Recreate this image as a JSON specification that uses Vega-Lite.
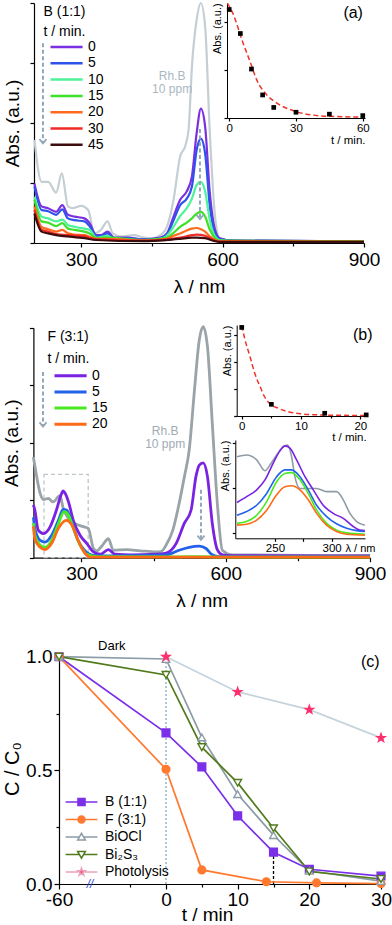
{
"$schema": "https://vega.github.io/schema/vega-lite/v6.json",
"width": 392, "height": 925,
"autosize": {"type": "none"},
"padding": 0,
"background": "white",
"config": {
  "font": "Liberation Sans",
  "view": {"stroke": null},
  "axis": {"grid": false, "domainColor": "#000", "tickColor": "#000", "labelColor": "#000", "titleColor": "#000", "titleFontWeight": "normal", "labelFlush": false, "labelOverlap": false, "labelBound": false, "domainWidth": 1.2, "tickWidth": 1.2, "labelFont": "Liberation Sans", "titleFont": "Liberation Sans"},
  "legend": {"labelColor": "#000", "titleColor": "#000", "titleFontWeight": "normal", "labelFont": "Liberation Sans", "titleFont": "Liberation Sans"}
},
"datasets": {
  "specA": [
    {"s":"Rh.B","nm":201,"a":1.72},{"s":"Rh.B","nm":216,"a":1.02},{"s":"Rh.B","nm":230,"a":1.02},{"s":"Rh.B","nm":247,"a":0.84},{"s":"Rh.B","nm":259,"a":1.16},{"s":"Rh.B","nm":272,"a":0.61},{"s":"Rh.B","nm":282,"a":0.58},{"s":"Rh.B","nm":300,"a":0.62},{"s":"Rh.B","nm":315,"a":0.55},{"s":"Rh.B","nm":328,"a":0.16},{"s":"Rh.B","nm":342,"a":0.22},{"s":"Rh.B","nm":356,"a":0.36},{"s":"Rh.B","nm":367,"a":0.16},{"s":"Rh.B","nm":384,"a":0.11},{"s":"Rh.B","nm":412,"a":0.13},{"s":"Rh.B","nm":433,"a":0.09},{"s":"Rh.B","nm":454,"a":0.08},{"s":"Rh.B","nm":468,"a":0.13},{"s":"Rh.B","nm":482,"a":0.27},{"s":"Rh.B","nm":496,"a":0.72},{"s":"Rh.B","nm":510,"a":1.44},{"s":"Rh.B","nm":521,"a":1.62},{"s":"Rh.B","nm":528,"a":1.9},{"s":"Rh.B","nm":535,"a":2.94},{"s":"Rh.B","nm":545,"a":3.72},{"s":"Rh.B","nm":554,"a":4.0},{"s":"Rh.B","nm":563,"a":3.61},{"s":"Rh.B","nm":573,"a":1.83},{"s":"Rh.B","nm":584,"a":0.44},{"s":"Rh.B","nm":594,"a":0.08},{"s":"Rh.B","nm":622,"a":0.04},{"s":"Rh.B","nm":700,"a":0.033},{"s":"Rh.B","nm":900,"a":0.03},
    {"s":"0","nm":201,"a":0.99},{"s":"0","nm":216,"a":0.61},{"s":"0","nm":230,"a":0.58},{"s":"0","nm":247,"a":0.52},{"s":"0","nm":260,"a":0.63},{"s":"0","nm":272,"a":0.47},{"s":"0","nm":286,"a":0.44},{"s":"0","nm":307,"a":0.41},{"s":"0","nm":318,"a":0.33},{"s":"0","nm":332,"a":0.13},{"s":"0","nm":342,"a":0.13},{"s":"0","nm":356,"a":0.19},{"s":"0","nm":370,"a":0.09},{"s":"0","nm":398,"a":0.09},{"s":"0","nm":433,"a":0.06},{"s":"0","nm":468,"a":0.09},{"s":"0","nm":482,"a":0.16},{"s":"0","nm":496,"a":0.44},{"s":"0","nm":510,"a":0.72},{"s":"0","nm":524,"a":0.86},{"s":"0","nm":535,"a":1.11},{"s":"0","nm":545,"a":1.83},{"s":"0","nm":554,"a":2.24},{"s":"0","nm":563,"a":1.94},{"s":"0","nm":573,"a":0.83},{"s":"0","nm":584,"a":0.22},{"s":"0","nm":594,"a":0.08},{"s":"0","nm":622,"a":0.04},{"s":"0","nm":900,"a":0.03},
    {"s":"5","nm":201,"a":0.94},{"s":"5","nm":216,"a":0.55},{"s":"5","nm":230,"a":0.53},{"s":"5","nm":247,"a":0.47},{"s":"5","nm":260,"a":0.56},{"s":"5","nm":272,"a":0.41},{"s":"5","nm":286,"a":0.38},{"s":"5","nm":307,"a":0.36},{"s":"5","nm":318,"a":0.28},{"s":"5","nm":332,"a":0.12},{"s":"5","nm":342,"a":0.12},{"s":"5","nm":356,"a":0.16},{"s":"5","nm":370,"a":0.08},{"s":"5","nm":398,"a":0.08},{"s":"5","nm":433,"a":0.06},{"s":"5","nm":468,"a":0.08},{"s":"5","nm":482,"a":0.14},{"s":"5","nm":496,"a":0.38},{"s":"5","nm":510,"a":0.63},{"s":"5","nm":524,"a":0.74},{"s":"5","nm":535,"a":0.94},{"s":"5","nm":545,"a":1.55},{"s":"5","nm":554,"a":1.74},{"s":"5","nm":563,"a":1.49},{"s":"5","nm":573,"a":0.61},{"s":"5","nm":584,"a":0.16},{"s":"5","nm":594,"a":0.06},{"s":"5","nm":622,"a":0.04},{"s":"5","nm":900,"a":0.03},
    {"s":"10","nm":201,"a":0.77},{"s":"10","nm":216,"a":0.44},{"s":"10","nm":230,"a":0.41},{"s":"10","nm":247,"a":0.36},{"s":"10","nm":260,"a":0.39},{"s":"10","nm":272,"a":0.30},{"s":"10","nm":286,"a":0.27},{"s":"10","nm":307,"a":0.24},{"s":"10","nm":318,"a":0.22},{"s":"10","nm":332,"a":0.09},{"s":"10","nm":356,"a":0.12},{"s":"10","nm":370,"a":0.07},{"s":"10","nm":433,"a":0.05},{"s":"10","nm":468,"a":0.07},{"s":"10","nm":482,"a":0.12},{"s":"10","nm":496,"a":0.27},{"s":"10","nm":510,"a":0.45},{"s":"10","nm":524,"a":0.58},{"s":"10","nm":535,"a":0.74},{"s":"10","nm":545,"a":0.97},{"s":"10","nm":554,"a":1.02},{"s":"10","nm":563,"a":0.86},{"s":"10","nm":573,"a":0.38},{"s":"10","nm":584,"a":0.11},{"s":"10","nm":594,"a":0.05},{"s":"10","nm":622,"a":0.033},{"s":"10","nm":900,"a":0.03},
    {"s":"15","nm":201,"a":0.72},{"s":"15","nm":216,"a":0.36},{"s":"15","nm":230,"a":0.34},{"s":"15","nm":247,"a":0.28},{"s":"15","nm":260,"a":0.33},{"s":"15","nm":272,"a":0.24},{"s":"15","nm":286,"a":0.22},{"s":"15","nm":307,"a":0.19},{"s":"15","nm":318,"a":0.16},{"s":"15","nm":332,"a":0.08},{"s":"15","nm":356,"a":0.09},{"s":"15","nm":433,"a":0.05},{"s":"15","nm":482,"a":0.09},{"s":"15","nm":496,"a":0.17},{"s":"15","nm":510,"a":0.27},{"s":"15","nm":524,"a":0.34},{"s":"15","nm":535,"a":0.41},{"s":"15","nm":545,"a":0.49},{"s":"15","nm":554,"a":0.52},{"s":"15","nm":563,"a":0.44},{"s":"15","nm":573,"a":0.22},{"s":"15","nm":584,"a":0.08},{"s":"15","nm":594,"a":0.04},{"s":"15","nm":900,"a":0.03},
    {"s":"20","nm":201,"a":0.61},{"s":"20","nm":216,"a":0.27},{"s":"20","nm":230,"a":0.23},{"s":"20","nm":247,"a":0.19},{"s":"20","nm":260,"a":0.22},{"s":"20","nm":272,"a":0.16},{"s":"20","nm":286,"a":0.14},{"s":"20","nm":307,"a":0.13},{"s":"20","nm":332,"a":0.07},{"s":"20","nm":356,"a":0.07},{"s":"20","nm":433,"a":0.04},{"s":"20","nm":482,"a":0.07},{"s":"20","nm":496,"a":0.12},{"s":"20","nm":510,"a":0.16},{"s":"20","nm":524,"a":0.21},{"s":"20","nm":535,"a":0.24},{"s":"20","nm":545,"a":0.25},{"s":"20","nm":554,"a":0.23},{"s":"20","nm":563,"a":0.19},{"s":"20","nm":573,"a":0.11},{"s":"20","nm":584,"a":0.05},{"s":"20","nm":594,"a":0.03},{"s":"20","nm":900,"a":0.02},
    {"s":"30","nm":201,"a":0.55},{"s":"30","nm":216,"a":0.22},{"s":"30","nm":230,"a":0.19},{"s":"30","nm":247,"a":0.15},{"s":"30","nm":272,"a":0.13},{"s":"30","nm":307,"a":0.11},{"s":"30","nm":332,"a":0.06},{"s":"30","nm":433,"a":0.04},{"s":"30","nm":482,"a":0.06},{"s":"30","nm":510,"a":0.09},{"s":"30","nm":535,"a":0.13},{"s":"30","nm":545,"a":0.14},{"s":"30","nm":563,"a":0.12},{"s":"30","nm":584,"a":0.04},{"s":"30","nm":594,"a":0.02},{"s":"30","nm":900,"a":0.02},
    {"s":"45","nm":201,"a":0.49},{"s":"45","nm":216,"a":0.19},{"s":"45","nm":230,"a":0.16},{"s":"45","nm":247,"a":0.13},{"s":"45","nm":272,"a":0.11},{"s":"45","nm":307,"a":0.08},{"s":"45","nm":332,"a":0.05},{"s":"45","nm":433,"a":0.03},{"s":"45","nm":482,"a":0.05},{"s":"45","nm":510,"a":0.07},{"s":"45","nm":535,"a":0.09},{"s":"45","nm":545,"a":0.09},{"s":"45","nm":563,"a":0.08},{"s":"45","nm":584,"a":0.03},{"s":"45","nm":594,"a":0.02},{"s":"45","nm":900,"a":0.02}
  ],
  "ptsA": [{"t":0,"a":2.26},{"t":5,"a":1.76},{"t":10,"a":1.02},{"t":15,"a":0.48},{"t":20,"a":0.22},{"t":30,"a":0.12},{"t":45,"a":0.08},{"t":60,"a":0.05}],
  "fitA": [{"t":-0.8,"a":2.39},{"t":1.9,"a":2.15},{"t":5.7,"a":1.63},{"t":9.4,"a":1.17},{"t":12.4,"a":0.79},{"t":16.9,"a":0.48},{"t":21.4,"a":0.31},{"t":28.9,"a":0.15},{"t":37.8,"a":0.06},{"t":48,"a":0.03},{"t":60,"a":0.02}],
  "specB": [
    {"s":"Rh.B","nm":200,"a":1.75},{"s":"Rh.B","nm":203,"a":1.6},{"s":"Rh.B","nm":214,"a":1.12},{"s":"Rh.B","nm":221,"a":1.01},{"s":"Rh.B","nm":231,"a":1.03},{"s":"Rh.B","nm":241,"a":0.97},{"s":"Rh.B","nm":255,"a":1.08},{"s":"Rh.B","nm":262,"a":0.86},{"s":"Rh.B","nm":273,"a":0.68},{"s":"Rh.B","nm":287,"a":0.59},{"s":"Rh.B","nm":304,"a":0.54},{"s":"Rh.B","nm":314,"a":0.51},{"s":"Rh.B","nm":325,"a":0.16},{"s":"Rh.B","nm":332,"a":0.12},{"s":"Rh.B","nm":342,"a":0.2},{"s":"Rh.B","nm":356,"a":0.33},{"s":"Rh.B","nm":366,"a":0.13},{"s":"Rh.B","nm":394,"a":0.14},{"s":"Rh.B","nm":422,"a":0.12},{"s":"Rh.B","nm":456,"a":0.1},{"s":"Rh.B","nm":466,"a":0.11},{"s":"Rh.B","nm":476,"a":0.22},{"s":"Rh.B","nm":490,"a":0.48},{"s":"Rh.B","nm":503,"a":0.94},{"s":"Rh.B","nm":514,"a":1.41},{"s":"Rh.B","nm":524,"a":1.87},{"s":"Rh.B","nm":535,"a":2.92},{"s":"Rh.B","nm":545,"a":3.79},{"s":"Rh.B","nm":553,"a":4.02},{"s":"Rh.B","nm":562,"a":3.67},{"s":"Rh.B","nm":572,"a":2.34},{"s":"Rh.B","nm":583,"a":0.89},{"s":"Rh.B","nm":593,"a":0.13},{"s":"Rh.B","nm":614,"a":0.05},{"s":"Rh.B","nm":900,"a":0.035},
    {"s":"0","nm":200,"a":0.92},{"s":"0","nm":203,"a":0.83},{"s":"0","nm":210,"a":0.48},{"s":"0","nm":221,"a":0.42},{"s":"0","nm":235,"a":0.54},{"s":"0","nm":248,"a":0.83},{"s":"0","nm":257,"a":1.08},{"s":"0","nm":262,"a":1.16},{"s":"0","nm":266,"a":1.12},{"s":"0","nm":273,"a":0.97},{"s":"0","nm":283,"a":0.65},{"s":"0","nm":297,"a":0.39},{"s":"0","nm":311,"a":0.25},{"s":"0","nm":325,"a":0.1},{"s":"0","nm":339,"a":0.06},{"s":"0","nm":356,"a":0.14},{"s":"0","nm":370,"a":0.06},{"s":"0","nm":402,"a":0.05},{"s":"0","nm":456,"a":0.06},{"s":"0","nm":476,"a":0.08},{"s":"0","nm":497,"a":0.25},{"s":"0","nm":514,"a":0.6},{"s":"0","nm":528,"a":0.83},{"s":"0","nm":538,"a":1.41},{"s":"0","nm":545,"a":1.61},{"s":"0","nm":553,"a":1.65},{"s":"0","nm":562,"a":1.41},{"s":"0","nm":572,"a":0.6},{"s":"0","nm":583,"a":0.13},{"s":"0","nm":593,"a":0.05},{"s":"0","nm":614,"a":0.035},{"s":"0","nm":900,"a":0.03},
    {"s":"5","nm":200,"a":0.7},{"s":"5","nm":203,"a":0.51},{"s":"5","nm":214,"a":0.3},{"s":"5","nm":224,"a":0.27},{"s":"5","nm":238,"a":0.39},{"s":"5","nm":252,"a":0.65},{"s":"5","nm":262,"a":0.84},{"s":"5","nm":269,"a":0.83},{"s":"5","nm":280,"a":0.62},{"s":"5","nm":293,"a":0.3},{"s":"5","nm":307,"a":0.12},{"s":"5","nm":325,"a":0.04},{"s":"5","nm":366,"a":0.03},{"s":"5","nm":476,"a":0.05},{"s":"5","nm":503,"a":0.13},{"s":"5","nm":524,"a":0.18},{"s":"5","nm":545,"a":0.2},{"s":"5","nm":559,"a":0.16},{"s":"5","nm":572,"a":0.05},{"s":"5","nm":586,"a":0.02},{"s":"5","nm":900,"a":0.02},
    {"s":"15","nm":200,"a":0.6},{"s":"15","nm":203,"a":0.39},{"s":"15","nm":214,"a":0.22},{"s":"15","nm":224,"a":0.18},{"s":"15","nm":238,"a":0.3},{"s":"15","nm":252,"a":0.59},{"s":"15","nm":264,"a":0.8},{"s":"15","nm":273,"a":0.74},{"s":"15","nm":283,"a":0.51},{"s":"15","nm":297,"a":0.22},{"s":"15","nm":311,"a":0.06},{"s":"15","nm":332,"a":0.02},{"s":"15","nm":500,"a":0.015},{"s":"15","nm":545,"a":0.02},{"s":"15","nm":600,"a":0.01},{"s":"15","nm":900,"a":0.01},
    {"s":"20","nm":200,"a":0.55},{"s":"20","nm":203,"a":0.33},{"s":"20","nm":214,"a":0.18},{"s":"20","nm":224,"a":0.14},{"s":"20","nm":238,"a":0.25},{"s":"20","nm":252,"a":0.51},{"s":"20","nm":268,"a":0.65},{"s":"20","nm":280,"a":0.57},{"s":"20","nm":293,"a":0.3},{"s":"20","nm":307,"a":0.08},{"s":"20","nm":318,"a":0.01},{"s":"20","nm":900,"a":0.01}
  ],
  "ptsB": [{"t":0,"a":3.26},{"t":5,"a":0.43},{"t":14,"a":0.1},{"t":21,"a":0.04}],
  "fitB": [{"t":0,"a":3.33},{"t":0.5,"a":2.85},{"t":1.4,"a":2.18},{"t":2.2,"a":1.57},{"t":3.1,"a":1.08},{"t":3.9,"a":0.69},{"t":4.8,"a":0.44},{"t":6.2,"a":0.28},{"t":8,"a":0.15},{"t":10,"a":0.08},{"t":12,"a":0.05},{"t":15,"a":0.03},{"t":21,"a":0.02}],
  "insetB": [
    {"s":"Rh.B","nm":216.5,"a":1.69},{"s":"Rh.B","nm":225,"a":1.73},{"s":"Rh.B","nm":233.9,"a":1.62},{"s":"Rh.B","nm":241.2,"a":1.38},{"s":"Rh.B","nm":245.6,"a":1.51},{"s":"Rh.B","nm":251.5,"a":1.73},{"s":"Rh.B","nm":257.3,"a":1.91},{"s":"Rh.B","nm":261.2,"a":1.95},{"s":"Rh.B","nm":264.7,"a":1.69},{"s":"Rh.B","nm":267.6,"a":1.25},{"s":"Rh.B","nm":272.1,"a":0.99},{"s":"Rh.B","nm":278,"a":0.99},{"s":"Rh.B","nm":286.8,"a":0.99},{"s":"Rh.B","nm":295.6,"a":0.92},{"s":"Rh.B","nm":304.4,"a":0.92},{"s":"Rh.B","nm":310.3,"a":0.74},{"s":"Rh.B","nm":316.2,"a":0.44},{"s":"Rh.B","nm":322.1,"a":0.26},{"s":"Rh.B","nm":329.4,"a":0.18},
    {"s":"0","nm":216.5,"a":0.68},{"s":"0","nm":225,"a":0.81},{"s":"0","nm":233.9,"a":0.96},{"s":"0","nm":241.2,"a":1.18},{"s":"0","nm":248.5,"a":1.55},{"s":"0","nm":254.4,"a":1.82},{"s":"0","nm":258.8,"a":1.93},{"s":"0","nm":263.2,"a":1.88},{"s":"0","nm":269.1,"a":1.62},{"s":"0","nm":276.5,"a":1.25},{"s":"0","nm":283.8,"a":0.96},{"s":"0","nm":292.6,"a":0.62},{"s":"0","nm":301.4,"a":0.44},{"s":"0","nm":310.3,"a":0.33},{"s":"0","nm":319.1,"a":0.15},{"s":"0","nm":325,"a":0.07},{"s":"0","nm":329.4,"a":0.06},
    {"s":"5","nm":216.5,"a":0.4},{"s":"5","nm":225,"a":0.48},{"s":"5","nm":233.9,"a":0.62},{"s":"5","nm":242.7,"a":0.88},{"s":"5","nm":251.5,"a":1.25},{"s":"5","nm":258.8,"a":1.4},{"s":"5","nm":264.7,"a":1.4},{"s":"5","nm":272.1,"a":1.25},{"s":"5","nm":279.4,"a":0.96},{"s":"5","nm":286.8,"a":0.62},{"s":"5","nm":295.6,"a":0.37},{"s":"5","nm":304.4,"a":0.21},{"s":"5","nm":313.3,"a":0.11},{"s":"5","nm":322.1,"a":0.06},{"s":"5","nm":329.4,"a":0.04},
    {"s":"15","nm":216.5,"a":0.22},{"s":"15","nm":225,"a":0.26},{"s":"15","nm":233.9,"a":0.4},{"s":"15","nm":242.7,"a":0.7},{"s":"15","nm":251.5,"a":1.14},{"s":"15","nm":258.8,"a":1.32},{"s":"15","nm":264.7,"a":1.34},{"s":"15","nm":272.1,"a":1.18},{"s":"15","nm":279.4,"a":0.88},{"s":"15","nm":286.8,"a":0.51},{"s":"15","nm":295.6,"a":0.22},{"s":"15","nm":304.4,"a":0.07},{"s":"15","nm":313.3,"a":0.01},{"s":"15","nm":329.4,"a":-0.02},
    {"s":"20","nm":216.5,"a":0.18},{"s":"20","nm":225,"a":0.2},{"s":"20","nm":233.9,"a":0.29},{"s":"20","nm":242.7,"a":0.51},{"s":"20","nm":251.5,"a":0.85},{"s":"20","nm":258.8,"a":1.03},{"s":"20","nm":264.7,"a":1.05},{"s":"20","nm":272.1,"a":0.96},{"s":"20","nm":279.4,"a":0.74},{"s":"20","nm":286.8,"a":0.44},{"s":"20","nm":295.6,"a":0.18},{"s":"20","nm":304.4,"a":0.04},{"s":"20","nm":313.3,"a":-0.02},{"s":"20","nm":329.4,"a":-0.04}
  ],
  "conv": [
    {"series":"B (1:1)","t":-60,"c":1.0},{"series":"B (1:1)","t":0,"c":0.665},{"series":"B (1:1)","t":5,"c":0.515},{"series":"B (1:1)","t":10,"c":0.3},{"series":"B (1:1)","t":15,"c":0.14},{"series":"B (1:1)","t":20,"c":0.065},{"series":"B (1:1)","t":30,"c":0.035},
    {"series":"F (3:1)","t":-60,"c":1.0},{"series":"F (3:1)","t":0,"c":0.505},{"series":"F (3:1)","t":5,"c":0.062},{"series":"F (3:1)","t":14,"c":0.01},{"series":"F (3:1)","t":21,"c":0.005},{"series":"F (3:1)","t":30,"c":0.002},
    {"series":"BiOCl","t":-60,"c":1.0},{"series":"BiOCl","t":0,"c":0.99},{"series":"BiOCl","t":5,"c":0.645},{"series":"BiOCl","t":10,"c":0.395},{"series":"BiOCl","t":15,"c":0.215},{"series":"BiOCl","t":20,"c":0.058},{"series":"BiOCl","t":30,"c":0.013},
    {"series":"Bi₂S₃","t":-60,"c":1.0},{"series":"Bi₂S₃","t":0,"c":0.92},{"series":"Bi₂S₃","t":5,"c":0.602},{"series":"Bi₂S₃","t":10,"c":0.445},{"series":"Bi₂S₃","t":15,"c":0.245},{"series":"Bi₂S₃","t":20,"c":0.055},{"series":"Bi₂S₃","t":30,"c":0.022},
    {"series":"Photolysis","t":0,"c":1.0},{"series":"Photolysis","t":10,"c":0.845},{"series":"Photolysis","t":20,"c":0.767},{"series":"Photolysis","t":30,"c":0.643}
  ]
},
"resolve": {"scale": {"x": "independent", "y": "independent", "color": "independent", "fill": "independent", "stroke": "independent", "shape": "independent"}, "axis": {"x": "independent", "y": "independent"}},
"layer": [
  {
    "encoding": {
      "x": {"field": "nm", "type": "quantitative", "scale": {"domain": [200, 900], "range": [34, 364], "nice": false, "zero": false},
            "axis": {"orient": "bottom", "offset": -682, "values": [300, 450, 600, 750, 900], "labelExpr": "datum.value % 300 == 0 ? datum.label : ''", "tickSize": {"condition": {"test": "datum.value % 300 != 0", "value": 3}, "value": 4}, "labelFontSize": 19, "labelPadding": 3, "title": "λ / nm", "titleFontSize": 19, "titlePadding": 8}},
      "y": {"field": "a", "type": "quantitative", "scale": {"domain": [0, 4], "range": [243, 3], "nice": false, "zero": false},
            "axis": {"orient": "left", "offset": -34, "values": [0, 1, 2, 3, 4], "labels": false, "tickSize": 4, "title": "Abs. (a.u.)", "titleFontSize": 19, "titlePadding": 7}}
    },
    "layer": [
      {"data": {"name": "specA"}, "mark": {"type": "line", "strokeWidth": 2.2, "interpolate": "monotone"},
       "encoding": {"color": {"field": "s", "type": "nominal",
         "scale": {"domain": ["Rh.B", "0", "5", "10", "15", "20", "30", "45"], "range": ["#c5ced3", "#7b2fe3", "#2f52ea", "#4df29a", "#3fe02a", "#ff6a1e", "#f02a26", "#3d0d0d"]},
         "legend": {"orient": "none", "legendX": 43.5, "legendY": 5, "values": ["0", "5", "10", "15", "20", "30", "45"], "title": ["B (1:1)", "t / min."], "titleFontSize": 14, "titleLineHeight": 20, "titlePadding": 1, "symbolType": "M0,0H10.7", "symbolSize": 36, "symbolStrokeWidth": 2.5, "labelFontSize": 14, "labelOffset": 30.5, "rowPadding": 2.3, "padding": 0}}}},
      {"data": {"values": [{"id": 1, "nm": 219, "a": 3.33}, {"id": 1, "nm": 219, "a": 1.66}, {"id": 2, "nm": 552, "a": 1.9}, {"id": 2, "nm": 552, "a": 0.4}]},
       "mark": {"type": "line", "strokeDash": [4, 2.5], "strokeWidth": 2, "color": "#93a7b8"}, "encoding": {"detail": {"field": "id", "type": "nominal"}}},
      {"data": {"values": [{"nm": 219, "a": 1.66}, {"nm": 552, "a": 0.4}]},
       "mark": {"type": "point", "shape": "M-1,-1.2L0,0L1,-1.2", "size": 49, "filled": false, "strokeWidth": 1.8, "color": "#93a7b8", "opacity": 1}},
      {"data": {"values": [{"nm": 493, "a": 2.78, "label": "Rh.B\n10 ppm"}]},
       "mark": {"type": "text", "fontSize": 12, "lineBreak": "\n", "lineHeight": 13, "align": "center", "baseline": "middle", "color": "#aab7bf"}, "encoding": {"text": {"field": "label"}}},
      {"data": {"values": [{"nm": 877, "a": 3.83, "label": "(a)"}]},
       "mark": {"type": "text", "fontSize": 16, "align": "center", "baseline": "middle", "color": "#000"}, "encoding": {"text": {"field": "label"}}}
    ]
  },
  {
    "encoding": {
      "x": {"field": "t", "type": "quantitative", "scale": {"domain": [-1, 61], "range": [227, 365], "nice": false, "zero": false},
            "axis": {"orient": "bottom", "offset": -807, "values": [0, 30, 60], "tickSize": 3, "labelFontSize": 11.5, "labelPadding": 1, "title": "t / min.", "titleFontSize": 11.5, "titleAnchor": "end", "titlePadding": 1, "domainWidth": 1}},
      "y": {"field": "a", "type": "quantitative", "scale": {"domain": [0, 2.4], "range": [118, 2.8], "nice": false, "zero": false},
            "axis": {"orient": "left", "offset": -227, "values": [0, 1, 2], "labels": false, "tickSize": 3, "title": "Abs. (a.u.)", "titleFontSize": 11, "titleAnchor": "end", "titlePadding": 1, "domainWidth": 1}}
    },
    "layer": [
      {"data": {"name": "fitA"}, "mark": {"type": "line", "color": "#f0332a", "strokeDash": [5, 3], "strokeWidth": 1.5, "interpolate": "monotone"}},
      {"data": {"name": "ptsA"}, "mark": {"type": "square", "color": "#000", "size": 22, "opacity": 1}}
    ]
  },
  {
    "encoding": {
      "x": {"field": "nm", "type": "quantitative", "scale": {"domain": [200, 900], "range": [33.4, 370], "nice": false, "zero": false},
            "axis": {"orient": "bottom", "offset": -367.3, "values": [300, 450, 600, 750, 900], "labelExpr": "datum.value % 300 == 0 ? datum.label : ''", "tickSize": {"condition": {"test": "datum.value % 300 != 0", "value": 3}, "value": 4}, "labelFontSize": 19, "labelPadding": 3, "title": "λ / nm", "titleFontSize": 19, "titlePadding": 8}},
      "y": {"field": "a", "type": "quantitative", "scale": {"domain": [0, 4], "range": [557.7, 327.7], "nice": false, "zero": false},
            "axis": {"orient": "left", "offset": -33.4, "values": [0, 1, 2, 3, 4], "labels": false, "tickSize": 4, "title": "Abs. (a.u.)", "titleFontSize": 19, "titlePadding": 7}}
    },
    "layer": [
      {"data": {"values": [{"nm": 222, "nm2": 314, "a": 0, "a2": 1.45}]},
       "mark": {"type": "rect", "fillOpacity": 0, "stroke": "#bcc6cc", "strokeDash": [4, 3], "strokeWidth": 1.3},
       "encoding": {"x2": {"field": "nm2"}, "y2": {"field": "a2"}}},
      {"data": {"name": "specB"}, "mark": {"type": "line", "strokeWidth": 2.8, "interpolate": "monotone"},
       "encoding": {"color": {"field": "s", "type": "nominal",
         "scale": {"domain": ["Rh.B", "0", "5", "15", "20"], "range": ["#9aa3a8", "#7a22e2", "#2262ea", "#48ea22", "#ff6a16"]},
         "legend": {"orient": "none", "legendX": 47.5, "legendY": 329.7, "values": ["0", "5", "15", "20"], "title": ["F (3:1)", "t / min."], "titleFontSize": 14, "titleLineHeight": 22, "titlePadding": 3, "symbolType": "M0,0H10.7", "symbolSize": 36, "symbolStrokeWidth": 3, "labelFontSize": 14, "labelOffset": 30.5, "rowPadding": 2.2, "padding": 0}}}},
      {"data": {"values": [{"id": 1, "nm": 220, "a": 3.23}, {"id": 1, "nm": 220, "a": 2.28}, {"id": 2, "nm": 548.5, "a": 1.18}, {"id": 2, "nm": 548.5, "a": 0.31}]},
       "mark": {"type": "line", "strokeDash": [4, 2.5], "strokeWidth": 2, "color": "#93a7b8"}, "encoding": {"detail": {"field": "id", "type": "nominal"}}},
      {"data": {"values": [{"nm": 220, "a": 2.28}, {"nm": 548.5, "a": 0.31}]},
       "mark": {"type": "point", "shape": "M-1,-1.2L0,0L1,-1.2", "size": 49, "filled": false, "strokeWidth": 1.8, "color": "#93a7b8", "opacity": 1}},
      {"data": {"values": [{"nm": 474, "a": 2.21, "label": "Rh.B\n10 ppm"}]},
       "mark": {"type": "text", "fontSize": 12, "lineBreak": "\n", "lineHeight": 13, "align": "center", "baseline": "middle", "color": "#9eabb3"}, "encoding": {"text": {"field": "label"}}},
      {"data": {"values": [{"nm": 885, "a": 3.87, "label": "(b)"}]},
       "mark": {"type": "text", "fontSize": 16, "align": "center", "baseline": "middle", "color": "#000"}, "encoding": {"text": {"field": "label"}}}
    ]
  },
  {
    "encoding": {
      "x": {"field": "t", "type": "quantitative", "scale": {"domain": [-0.85, 21], "range": [236.7, 366.2], "nice": false, "zero": false},
            "axis": {"orient": "bottom", "offset": -509, "values": [0, 5, 10, 15, 20], "labelExpr": "datum.value % 10 == 0 ? datum.label : ''", "tickSize": {"condition": {"test": "datum.value % 10 != 0", "value": 2}, "value": 3}, "labelFontSize": 11.5, "labelPadding": 1, "title": "t / min.", "titleFontSize": 11.5, "titleAnchor": "end", "titlePadding": 0, "domainWidth": 1}},
      "y": {"field": "a", "type": "quantitative", "scale": {"domain": [0, 3.35], "range": [416, 325], "nice": false, "zero": false},
            "axis": {"orient": "left", "offset": -236.7, "values": [0, 1, 2, 3], "labels": false, "tickSize": 3, "title": "Abs. (a.u.)", "titleFontSize": 11, "titleAnchor": "end", "titlePadding": 1, "domainWidth": 1}}
    },
    "layer": [
      {"data": {"name": "fitB"}, "mark": {"type": "line", "color": "#f0332a", "strokeDash": [5, 3], "strokeWidth": 1.5, "interpolate": "monotone"}},
      {"data": {"name": "ptsB"}, "mark": {"type": "square", "color": "#000", "size": 22, "opacity": 1}}
    ]
  },
  {
    "encoding": {
      "x": {"field": "nm", "type": "quantitative", "scale": {"domain": [215, 329.5], "range": [235.3, 365], "nice": false, "zero": false},
            "axis": {"orient": "bottom", "offset": -386.7, "values": [250, 275, 300], "labelExpr": "datum.value % 50 == 0 ? datum.label : ''", "tickSize": 3, "labelFontSize": 11.5, "labelPadding": 1, "title": "λ / nm", "titleFontSize": 11, "titleX": 375, "titleY": 4, "titleAlign": "right", "domainWidth": 1}},
      "y": {"field": "a", "type": "quantitative", "scale": {"domain": [-0.11, 2.06], "range": [538.3, 440], "nice": false, "zero": false},
            "axis": {"orient": "left", "offset": -235.3, "values": [0, 1, 2], "labels": false, "tickSize": 3, "title": "Abs. (a.u.)", "titleFontSize": 11, "titleAnchor": "end", "titlePadding": 1, "domainWidth": 1}}
    },
    "layer": [
      {"data": {"name": "insetB"}, "mark": {"type": "line", "strokeWidth": 1.6, "interpolate": "monotone"},
       "encoding": {"color": {"field": "s", "type": "nominal", "scale": {"domain": ["Rh.B", "0", "5", "15", "20"], "range": ["#909ca3", "#7a22e2", "#2262ea", "#48ea22", "#ff6a16"]}, "legend": null}}}
    ]
  },
  {
    "encoding": {
      "x": {"field": "t", "type": "quantitative", "scale": {"domain": [-60, 0, 30], "range": [59, 166, 381], "nice": false, "zero": false},
            "axis": {"orient": "bottom", "offset": -41, "values": [-60, -20, 0, 5, 10, 15, 20, 25, 30], "labelExpr": "datum.value == -60 ? '-60' : (indexof([0, 10, 20, 30], datum.value) >= 0 ? datum.label : '')", "tickSize": {"condition": {"test": "indexof([-60, 0, 10, 20, 30], datum.value) < 0", "value": 3}, "value": 5}, "labelFontSize": 19, "labelPadding": 1, "title": "t / min", "titleFontSize": 19, "titlePadding": -4, "titleX": 207}},
      "y": {"field": "c", "type": "quantitative", "scale": {"domain": [0, 1.015], "range": [884, 653.3], "nice": false, "zero": false},
            "axis": {"orient": "left", "offset": -59, "values": [0, 0.25, 0.5, 0.75, 1], "labelExpr": "datum.value == 0.25 || datum.value == 0.75 ? '' : format(datum.value, '.1f')", "tickSize": {"condition": {"test": "datum.value == 0.25 || datum.value == 0.75", "value": 3}, "value": 5}, "labelFontSize": 19, "labelPadding": 2, "title": "C / C₀", "titleFontSize": 20, "titlePadding": 3}}
    },
    "layer": [
      {"data": {"values": [{"t": 0, "c": 0, "c2": 1.0}]}, "mark": {"type": "rule", "color": "#86a9c6", "strokeDash": [2, 2], "strokeWidth": 1.3}, "encoding": {"y2": {"field": "c2"}}},
      {"data": {"values": [{"t": 15, "c": 0, "c2": 0.14}]}, "mark": {"type": "rule", "color": "#000", "strokeDash": [3, 2], "strokeWidth": 1.3}, "encoding": {"y2": {"field": "c2"}}},
      {"data": {"name": "conv"}, "mark": {"type": "line", "strokeWidth": 1.7},
       "encoding": {"color": {"field": "series", "type": "nominal", "scale": {"domain": ["B (1:1)", "F (3:1)", "BiOCl", "Bi₂S₃", "Photolysis"], "range": ["#7a2fe8", "#ff7a30", "#8c9ca7", "#507a1c", "#c5d3db"]}, "legend": null}}},
      {"data": {"name": "conv"}, "mark": {"type": "point", "filled": true, "opacity": 1, "size": 60, "strokeWidth": 1.4},
       "encoding": {
         "shape": {"field": "series", "type": "nominal", "scale": {"domain": ["B (1:1)", "F (3:1)", "BiOCl", "Bi₂S₃", "Photolysis"], "range": ["square", "circle", "triangle-up", "triangle-down", "M0,-1.1L0.26,-0.36L1.05,-0.34L0.42,0.14L0.65,0.89L0,0.44L-0.65,0.89L-0.42,0.14L-1.05,-0.34L-0.26,-0.36Z"]}, "legend": null},
         "fill": {"field": "series", "type": "nominal", "scale": {"domain": ["B (1:1)", "F (3:1)", "BiOCl", "Bi₂S₃", "Photolysis"], "range": ["#7a2fe8", "#ff7a30", "#ffffff", "#ffffff", "#ff2f6d"]}, "legend": null},
         "stroke": {"field": "series", "type": "nominal", "scale": {"domain": ["B (1:1)", "F (3:1)", "BiOCl", "Bi₂S₃", "Photolysis"], "range": ["#7a2fe8", "#ff7a30", "#8c9ca7", "#507a1c", "#ff2f6d"]}, "legend": null}
       }},
      {"data": {"values": [{"t": -30.4, "c": 1.047, "label": "Dark"}]}, "mark": {"type": "text", "fontSize": 13, "align": "center", "baseline": "middle", "color": "#000"}, "encoding": {"text": {"field": "label"}}},
      {"data": {"values": [{"t": 28.5, "c": 0.978, "label": "(c)"}]}, "mark": {"type": "text", "fontSize": 16, "align": "center", "baseline": "middle", "color": "#000"}, "encoding": {"text": {"field": "label"}}},
      {"data": {"values": [{"t": -42.6, "c": 0, "label": "//"}]}, "mark": {"type": "text", "fontSize": 12, "fontStyle": "italic", "align": "center", "baseline": "middle", "color": "#3348d6"}, "encoding": {"text": {"field": "label"}}}
    ]
  },
  {
    "data": {"name": "conv"},
    "transform": [{"filter": "false"}],
    "mark": {"type": "point", "filled": true, "opacity": 1},
    "encoding": {
      "shape": {"field": "series", "type": "nominal", "scale": {"domain": ["B (1:1)", "F (3:1)", "BiOCl", "Bi₂S₃", "Photolysis"], "range": ["M-4.5,0H-1M1,0H4.5M-1,-1H1V1H-1Z", "M-4.5,0H-1M1,0H4.5M1,0A1,1,0,1,1,-1,0A1,1,0,1,1,1,0Z", "M-4.5,0H-0.6M0.6,0H4.5M0,-1.05L1.1,0.85L-1.1,0.85Z", "M-4.5,0H-0.6M0.6,0H4.5M0,1.05L1.1,-0.85L-1.1,-0.85Z", "M-4.5,0H-0.9M0.9,0H4.5M0,-1.1L0.26,-0.36L1.05,-0.34L0.42,0.14L0.65,0.89L0,0.44L-0.65,0.89L-0.42,0.14L-1.05,-0.34L-0.26,-0.36Z"]},
        "legend": {"orient": "none", "legendX": 74.5, "legendY": 795, "title": null, "symbolSize": 50, "symbolStrokeWidth": 1.5, "labelFontSize": 14, "labelOffset": 16.5, "rowPadding": 3.5, "padding": 0}},
      "fill": {"field": "series", "type": "nominal", "scale": {"domain": ["B (1:1)", "F (3:1)", "BiOCl", "Bi₂S₃", "Photolysis"], "range": ["#7a2fe8", "#ff7a30", "#ffffff", "#ffffff", "#ff2f6d"]},
        "legend": {"orient": "none", "legendX": 74.5, "legendY": 795, "title": null, "symbolSize": 50, "symbolStrokeWidth": 1.5, "labelFontSize": 14, "labelOffset": 16.5, "rowPadding": 3.5, "padding": 0}},
      "stroke": {"field": "series", "type": "nominal", "scale": {"domain": ["B (1:1)", "F (3:1)", "BiOCl", "Bi₂S₃", "Photolysis"], "range": ["#7a2fe8", "#ff7a30", "#8c9ca7", "#507a1c", "#e9a3bb"]},
        "legend": {"orient": "none", "legendX": 74.5, "legendY": 795, "title": null, "symbolSize": 50, "symbolStrokeWidth": 1.5, "labelFontSize": 14, "labelOffset": 16.5, "rowPadding": 3.5, "padding": 0}}
    }
  }
]
}
